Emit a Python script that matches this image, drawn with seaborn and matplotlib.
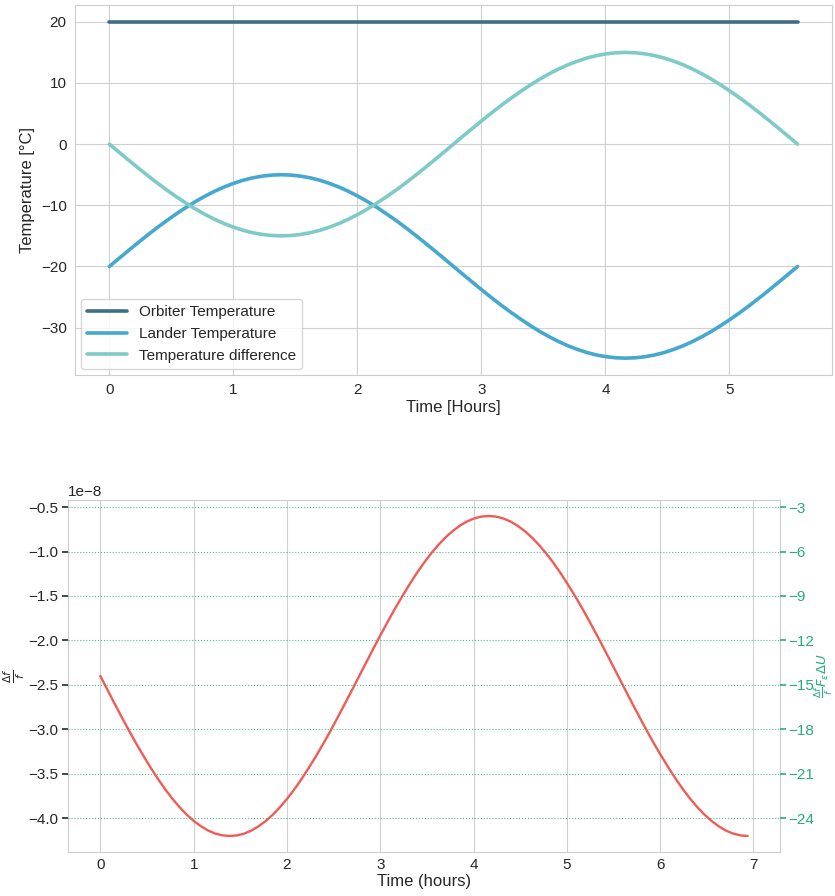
import numpy as np
import pandas as pd
import matplotlib
matplotlib.use("Agg")
import matplotlib.pyplot as plt
import seaborn as sns

# ---- data ----
time_top = [0.000, 0.077, 0.154, 0.231, 0.308, 0.385, 0.463, 0.540, 0.617, 0.694,
            0.771, 0.848, 0.925, 1.002, 1.079, 1.156, 1.233, 1.310, 1.388, 1.465,
            1.542, 1.619, 1.696, 1.773, 1.850, 1.927, 2.004, 2.081, 2.158, 2.235,
            2.313, 2.390, 2.467, 2.544, 2.621, 2.698, 2.775, 2.852, 2.929, 3.006,
            3.083, 3.160, 3.238, 3.315, 3.392, 3.469, 3.546, 3.623, 3.700, 3.777,
            3.854, 3.931, 4.008, 4.085, 4.163, 4.240, 4.317, 4.394, 4.471, 4.548,
            4.625, 4.702, 4.779, 4.856, 4.933, 5.010, 5.088, 5.165, 5.242, 5.319,
            5.396, 5.473, 5.550]
orbiter_temp = [20.0] * 73
lander_temp = [-20.0, -18.69, -17.40, -16.12, -14.87, -13.66, -12.5, -11.40, -10.36, -9.39,
               -8.51, -7.71, -7.01, -6.41, -5.90, -5.51, -5.23, -5.06, -5.0,
               -5.06, -5.23, -5.51, -5.90, -6.41, -7.01, -7.71, -8.51, -9.39, -10.36,
               -11.40, -12.5, -13.66, -14.87, -16.12, -17.40, -18.69, -20.0,
               -21.31, -22.60, -23.88, -25.13, -26.34, -27.5, -28.60, -29.64, -30.61,
               -31.49, -32.29, -32.99, -33.59, -34.10, -34.49, -34.77, -34.94, -35.0,
               -34.94, -34.77, -34.49, -34.10, -33.59, -32.99, -32.29, -31.49, -30.61,
               -29.64, -28.60, -27.5, -26.34, -25.13, -23.88, -22.60, -21.31, -20.0]
temp_diff = [0.0, -1.31, -2.60, -3.88, -5.13, -6.34, -7.5, -8.60, -9.64, -10.61,
             -11.49, -12.29, -12.99, -13.59, -14.10, -14.49, -14.77, -14.94, -15.0,
             -14.94, -14.77, -14.49, -14.10, -13.59, -12.99, -12.29, -11.49, -10.61,
             -9.64, -8.60, -7.5, -6.34, -5.13, -3.88, -2.60, -1.31, 0.0,
             1.31, 2.60, 3.88, 5.13, 6.34, 7.5, 8.60, 9.64, 10.61,
             11.49, 12.29, 12.99, 13.59, 14.10, 14.49, 14.77, 14.94, 15.0,
             14.94, 14.77, 14.49, 14.10, 13.59, 12.99, 12.29, 11.49, 10.61,
             9.64, 8.60, 7.5, 6.34, 5.13, 3.88, 2.60, 1.31, 0.0]

time_bot = time_top + [5.627, 5.704, 5.781, 5.858, 5.935, 6.013, 6.090, 6.167, 6.244,
                       6.321, 6.398, 6.475, 6.552, 6.629, 6.706, 6.783, 6.860, 6.938]
# delta f / f in units of 1e-8
dff_e8 = [-2.400, -2.557, -2.713, -2.866, -3.016, -3.161, -3.300, -3.432, -3.557, -3.673,
          -3.779, -3.874, -3.959, -4.031, -4.091, -4.139, -4.173, -4.193, -4.200,
          -4.193, -4.173, -4.139, -4.091, -4.031, -3.959, -3.874, -3.779, -3.673,
          -3.557, -3.432, -3.300, -3.161, -3.016, -2.866, -2.713, -2.557, -2.400,
          -2.243, -2.087, -1.934, -1.784, -1.639, -1.500, -1.368, -1.243, -1.127,
          -1.021, -0.926, -0.841, -0.769, -0.709, -0.661, -0.627, -0.607, -0.600,
          -0.607, -0.627, -0.661, -0.709, -0.769, -0.841, -0.926, -1.021, -1.127,
          -1.243, -1.368, -1.500, -1.639, -1.784, -1.934, -2.087, -2.243, -2.400,
          -2.557, -2.713, -2.866, -3.016, -3.161, -3.300, -3.432, -3.557, -3.673,
          -3.779, -3.874, -3.959, -4.031, -4.091, -4.139, -4.173, -4.193, -4.200]
right_scale = 6e8  # right axis = left axis * 6e8
right_ticks = [-3, -6, -9, -12, -15, -18, -21, -24]

series_names = ["Orbiter Temperature", "Lander Temperature", "Temperature difference"]
series_colors = ["#3e6e82", "#45a8cf", "#7ecac7"]
red = "#f05b56"
green = "#26ad7c"

sns.set_style("whitegrid", {"axes.edgecolor": "#cccccc", "grid.color": "#d0d0d0"})
plt.rcParams["font.family"] = ["Liberation Sans", "DejaVu Sans"]
text_c = "#262626"

fig = plt.figure(figsize=(8.35, 8.96), dpi=100)

# ---------- top chart ----------
ax1 = fig.add_axes([0.0898, 0.5815, 0.9066, 0.4129])
n = len(time_top)
df_top = pd.DataFrame({
    "time": time_top * 3,
    "temp": orbiter_temp + lander_temp + temp_diff,
    "series": [series_names[0]] * n + [series_names[1]] * n + [series_names[2]] * n,
})
sns.lineplot(data=df_top, x="time", y="temp", hue="series", hue_order=series_names,
             palette=series_colors, linewidth=2.6, ax=ax1, sort=False)
ax1.set_xlabel("Time [Hours]", fontsize=12, color=text_c, labelpad=2)
ax1.set_ylabel("Temperature [°C]", fontsize=12, color=text_c)
ax1.tick_params(labelsize=11, colors=text_c, length=0, pad=6)
ax1.set_yticks([20, 10, 0, -10, -20, -30])
leg = ax1.legend(loc="lower left", fontsize=11, frameon=True, borderaxespad=0.4,
                 handlelength=2.6)
for t in leg.get_texts():
    t.set_color(text_c)
for l in leg.get_lines():
    l.set_linewidth(2.6)

# ---------- bottom chart ----------
ax2 = fig.add_axes([0.0814, 0.0491, 0.8527, 0.3929])
df_bot = pd.DataFrame({"time": time_bot, "dff": np.array(dff_e8) * 1e-8})
sns.lineplot(data=df_bot, x="time", y="dff", color=red, linewidth=1.7, ax=ax2)
ax2.set_xlabel("Time (hours)", fontsize=12, color=text_c, labelpad=2)
ax2.set_ylabel(r"$\frac{\Delta f}{f}$", fontsize=11, color=text_c, labelpad=1)
ax2.grid(axis="y", visible=False)
ax2.grid(axis="x", visible=True)
ax2.tick_params(axis="y", labelsize=11, colors=text_c, length=4, width=1.2,
                left=True, direction="out", pad=3)
ax2.tick_params(axis="x", labelsize=11, colors=text_c, length=0, pad=4)
ax2.set_yticks([-0.5e-8, -1.0e-8, -1.5e-8, -2.0e-8, -2.5e-8, -3.0e-8, -3.5e-8, -4.0e-8])
ax2.yaxis.get_offset_text().set_fontsize(11)
ax2.yaxis.get_offset_text().set_color(text_c)

lo, hi = ax2.get_ylim()
ax3 = ax2.twinx()
ax3.set_ylim(lo * right_scale, hi * right_scale)
ax3.set_yticks(right_ticks)
ax3.grid(axis="y", color=green, linestyle=":", linewidth=0.8, alpha=0.8)
ax3.grid(axis="x", visible=False)
ax3.tick_params(axis="y", labelsize=11, colors=green, length=4, width=1.2,
                right=True, direction="out", pad=2)
ax3.set_ylabel(r"$\frac{\Delta f}{f}F_{\epsilon}\Delta U$", fontsize=9.5, color=green,
               labelpad=-1)
for s in ax3.spines.values():
    s.set_visible(False)

fig.savefig("out.png", dpi=100)
